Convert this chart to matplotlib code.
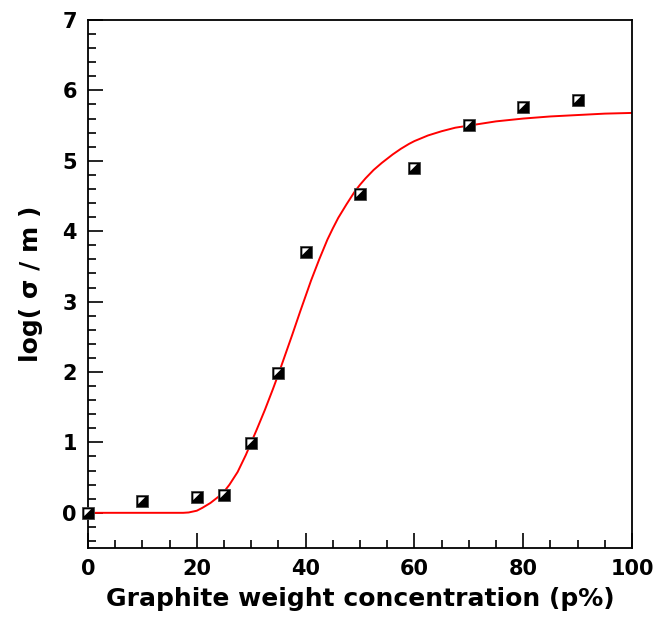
import matplotlib.pyplot as plt
from matplotlib.ticker import MultipleLocator

# measured points
conc = [0, 10, 20, 25, 30, 35, 40, 50, 60, 70, 80, 90]
log_sigma = [0.0, 0.17, 0.23, 0.26, 0.99, 1.99, 3.71, 4.53, 4.90, 5.51, 5.77, 5.87]

# fitted curve
fit_x = [0, 17.5, 18.5, 20, 21, 22.5, 24, 25, 26, 27.5, 29, 30, 31, 32.5, 34, 35, 36,
         37.5, 39, 40, 41, 42.5, 44, 45, 46, 47.5, 49, 50, 51, 52.5, 54, 55, 56,
         57.5, 59, 60, 62.5, 65, 67.5, 70, 72.5, 75, 80, 85, 90, 95, 100]
fit_y = [0, 0, 0.005, 0.03, 0.07, 0.14, 0.23, 0.3, 0.4, 0.58, 0.82, 1.0, 1.18, 1.46,
         1.76, 1.97, 2.19, 2.52, 2.86, 3.08, 3.3, 3.6, 3.88, 4.04, 4.19, 4.38, 4.56,
         4.66, 4.75, 4.87, 4.97, 5.03, 5.09, 5.17, 5.24, 5.28, 5.36, 5.42, 5.47, 5.5,
         5.53, 5.56, 5.6, 5.63, 5.65, 5.67, 5.68]

plt.rcParams['font.family'] = 'DejaVu Sans'
plt.rcParams['font.weight'] = 'bold'

fig = plt.figure(figsize=(6.54, 6.17), dpi=100)
ax = fig.add_axes([0.1346, 0.1118, 0.8318, 0.8558])

ax.plot(fit_x, fit_y, color='red', lw=1.4, zorder=2)

# half-filled squares: black square with white upper-left triangle
tri = [(-1, 1), (0.6, 1), (-1, -0.6), (-1, 1)]
ax.plot(conc, log_sigma, ls='none', marker='s', ms=8.5, mfc='black', mec='#444444',
        mew=0.6, zorder=3, clip_on=False)
ax.plot(conc, log_sigma, ls='none', marker=tri, ms=6, mfc='white', mec='white',
        mew=0, zorder=4, clip_on=False)

ax.set_xlim(0, 100)
ax.set_ylim(-0.5, 7)
ax.xaxis.set_major_locator(MultipleLocator(20))
ax.xaxis.set_minor_locator(MultipleLocator(5))
ax.yaxis.set_major_locator(MultipleLocator(1))
ax.yaxis.set_minor_locator(MultipleLocator(0.2))
ax.tick_params(which='both', direction='in', top=False, right=False, width=1.2,
               labelsize=15)
ax.tick_params(which='major', length=11, pad=8)
ax.tick_params(which='minor', length=6)
for s in ax.spines.values():
    s.set_linewidth(1.3)

ax.set_xlabel('Graphite weight concentration (p%)', fontsize=18, fontweight='bold', labelpad=6)
ax.set_ylabel('log( σ / m )', fontsize=18, fontweight='bold', labelpad=14)

fig.savefig('out.png', dpi=100)
